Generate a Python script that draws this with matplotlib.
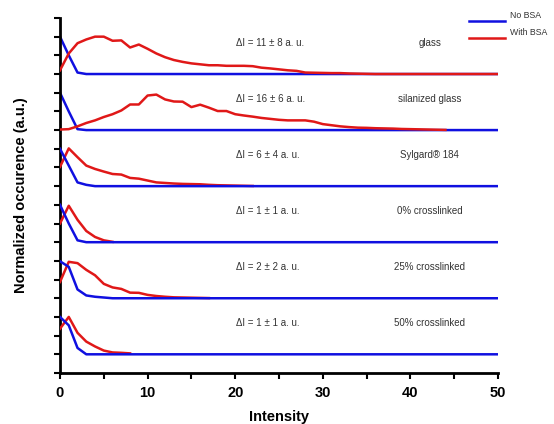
import numpy as np
import matplotlib
matplotlib.use('Agg')
import matplotlib.pyplot as plt
from matplotlib.lines import Line2D

plt.rcParams['font.family'] = ['Liberation Sans', 'DejaVu Sans']

# Donnees (maximum normalise a 2 unites)
labels = ['glass', 'silanized glass', 'Sylgard\u00ae 184',
          '0% crosslinked', '25% crosslinked', '50% crosslinked']
delta_i = ['\u0394I = 11 \u00b1 8 a. u.', '\u0394I = 16 \u00b1 6 a. u.',
           '\u0394I = 6 \u00b1 4 a. u.', '\u0394I = 1 \u00b1 1 a. u.',
           '\u0394I = 2 \u00b1 2 a. u.', '\u0394I = 1 \u00b1 1 a. u.']

no_bsa = [
    [2.0, 1.0, 0.08],
    [2.0, 1.0, 0.05],
    [2.0, 1.1, 0.2, 0.07],
    [2.0, 1.0, 0.1],
    [1.98, 1.68, 0.47, 0.15, 0.08, 0.04],
    [2.0, 1.55, 0.34],
]

with_bsa = [
    [0.2, 1.1, 1.65, 1.85, 2.0, 2.0, 1.78, 1.8, 1.42, 1.58, 1.35, 1.1, 0.9,
     0.75, 0.65, 0.57, 0.52, 0.47, 0.47, 0.44, 0.44, 0.44, 0.42, 0.34, 0.3,
     0.25, 0.2, 0.17, 0.08, 0.07, 0.06, 0.05, 0.05, 0.03, 0.02, 0.01, 0.0,
     0.0, 0.0, 0.0, 0.0, 0.0, 0.0, 0.0, 0.0, 0.0, 0.0, 0.0, 0.0, 0.0, 0.0],
    [0.03, 0.05, 0.2, 0.38, 0.52, 0.7, 0.85, 1.05, 1.37, 1.37, 1.85, 1.9,
     1.64, 1.53, 1.52, 1.23, 1.36, 1.2, 1.02, 1.02, 0.85, 0.78, 0.72, 0.65,
     0.6, 0.55, 0.52, 0.52, 0.52, 0.45, 0.32, 0.26, 0.2, 0.16, 0.13, 0.12,
     0.1, 0.09, 0.08, 0.06, 0.05, 0.04, 0.03, 0.02, 0.01],
    [1.03, 2.02, 1.55, 1.1, 0.92, 0.78, 0.65, 0.62, 0.44, 0.4, 0.3, 0.2,
     0.17, 0.14, 0.12, 0.11, 0.1, 0.07, 0.05, 0.04, 0.03, 0.02, 0.01],
    [1.0, 1.95, 1.2, 0.6, 0.28, 0.1, 0.02],
    [0.87, 1.95, 1.88, 1.52, 1.23, 0.77, 0.58, 0.5, 0.3, 0.29, 0.18, 0.12,
     0.08, 0.05, 0.04, 0.03, 0.02, 0.01],
    [1.37, 2.0, 1.15, 0.68, 0.42, 0.2, 0.1, 0.08, 0.05],
]

x_max = 50
blue = '#1010e0'
red = '#e01818'


def main():
    fig = plt.figure(figsize=(5.54, 4.24), dpi=100)
    ax = fig.add_axes([0.1083, 0.1203, 0.7906, 0.8373])

    n = len(labels)
    for i in range(n):
        base = 1 + 3 * (n - 1 - i)
        b = np.zeros(x_max + 1)
        b[:len(no_bsa[i])] = no_bsa[i]
        r = np.array(with_bsa[i])
        red_on_top = i < 2
        ax.plot(np.arange(x_max + 1), base + b, color=blue, lw=1.8,
                zorder=2 if red_on_top else 4, solid_joinstyle='round')
        ax.plot(np.arange(len(r)), base + r, color=red, lw=1.8,
                zorder=3, solid_joinstyle='round')
        ax.text(20.1, base + 1.65, delta_i[i], fontsize=7, color='#333333',
                ha='left', va='center')
        ax.text(42.2, base + 1.65, labels[i], fontsize=7, color='#333333',
                ha='center', va='center')

    ax.set_xlim(0, x_max)
    ax.set_ylim(0, 19)
    ax.set_xticks(np.arange(0, 51, 5))
    ax.set_xticklabels([str(v) if v % 10 == 0 else '' for v in range(0, 51, 5)],
                       fontweight='bold', fontsize=10.5)
    ax.set_yticks(np.arange(0, 20, 1))
    ax.set_yticklabels([])
    ax.tick_params(direction='out', length=4.5, width=1.5)
    ax.tick_params(axis='x', pad=5)
    for s in ['top', 'right']:
        ax.spines[s].set_visible(False)
    for s in ['left', 'bottom']:
        ax.spines[s].set_linewidth(2)
    ax.set_xlabel('Intensity', fontweight='bold', fontsize=10.5, labelpad=7)
    ax.set_ylabel('Normalized occurence (a.u.)', fontweight='bold',
                  fontsize=10.5, labelpad=15)

    # legende
    fig.add_artist(Line2D([0.8466, 0.9116], [0.951, 0.951], color=blue,
                          lw=1.8, transform=fig.transFigure))
    fig.add_artist(Line2D([0.8466, 0.9116], [0.911, 0.911], color=red,
                          lw=1.8, transform=fig.transFigure))
    fig.text(0.9206, 0.9646, 'No BSA', fontsize=6.3, color='#333333',
             va='center')
    fig.text(0.9206, 0.9245, 'With BSA', fontsize=6.3, color='#333333',
             va='center')

    fig.savefig('out.png', dpi=100)


if __name__ == "__main__":
    main()
